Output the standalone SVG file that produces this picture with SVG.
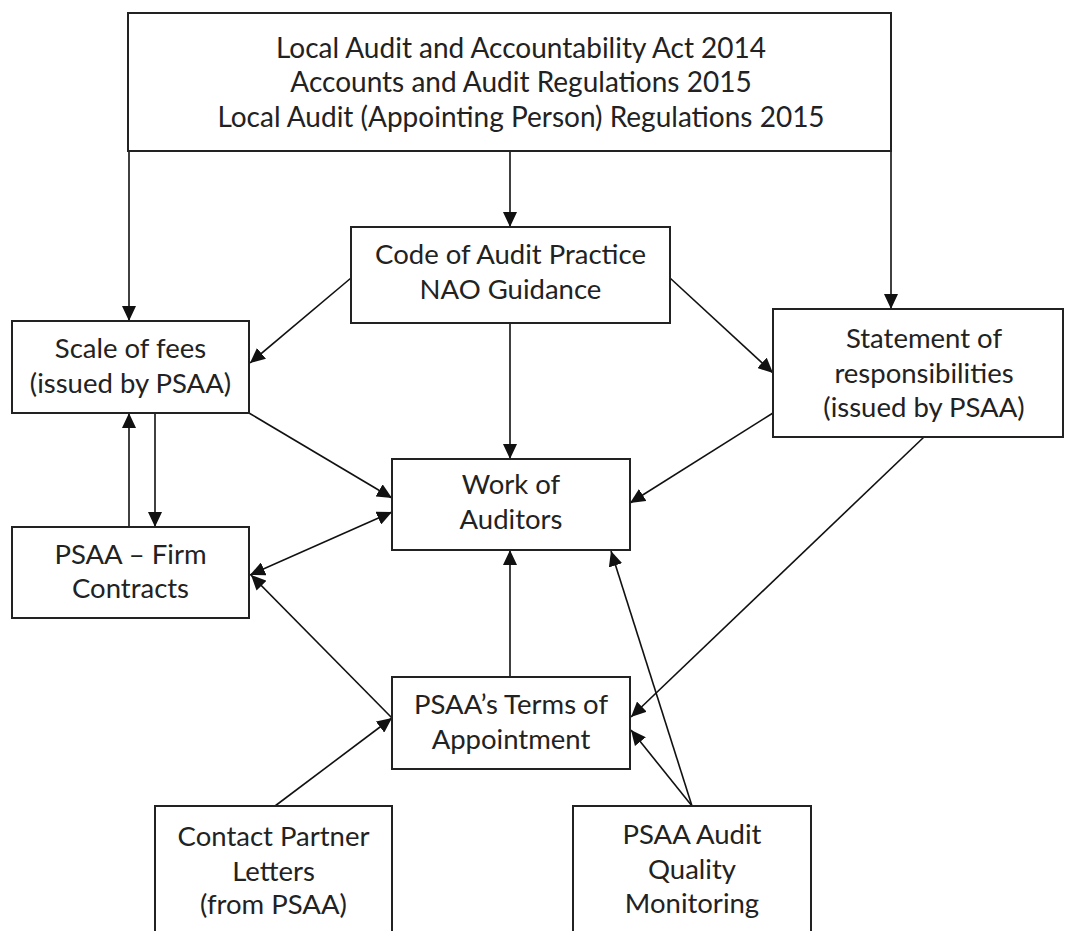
<svg xmlns="http://www.w3.org/2000/svg" width="1068" height="931" viewBox="0 0 1068 931">
<defs>
<marker id="ah" markerUnits="userSpaceOnUse" markerWidth="16" markerHeight="14" refX="15" refY="7" orient="auto-start-reverse">
<path d="M0,0 L15,7 L0,14 z" fill="#111"/>
</marker>
<style>
.box{fill:#fff;stroke:#222;stroke-width:2}
.t{font-family:Lato,"Open Sans","Liberation Sans",sans-serif;font-size:27.5px;fill:#222;text-anchor:middle}
.c{stroke:#111;stroke-width:1.6;fill:none;marker-end:url(#ah)}
.d{marker-start:url(#ah)}
</style>
</defs>
<rect width="1068" height="931" fill="#fff"/>
<g id="connectors">
<line class="c" x1="129" y1="151" x2="129" y2="321"/>
<line class="c" x1="510" y1="151" x2="510" y2="227"/>
<line class="c" x1="891" y1="151" x2="891" y2="309"/>
<line class="c" x1="351" y1="278" x2="250" y2="363"/>
<line class="c" x1="670" y1="278" x2="773" y2="373"/>
<line class="c" x1="510" y1="323" x2="510" y2="459"/>
<line class="c" x1="249" y1="413" x2="392" y2="498"/>
<line class="c" x1="155" y1="413" x2="155" y2="527"/>
<line class="c" x1="129" y1="527" x2="129" y2="413"/>
<line class="c d" x1="250" y1="575" x2="392" y2="512"/>
<line class="c" x1="773" y1="413" x2="630" y2="503"/>
<line class="c" x1="924" y1="437" x2="631" y2="717"/>
<line class="c" x1="510" y1="677" x2="510" y2="550"/>
<line class="c" x1="392" y1="718" x2="251" y2="575"/>
<line class="c" x1="275" y1="806" x2="392" y2="718"/>
<line class="c" x1="692" y1="806" x2="631" y2="730"/>
<line class="c" x1="692" y1="806" x2="611" y2="551"/>
</g>
<g id="top">
<rect class="box" x="128" y="13" width="763" height="138"/>
<text class="t" x="521" y="58" style="font-size:28px">Local Audit and Accountability Act 2014</text>
<text class="t" x="521" y="92" style="font-size:28px">Accounts and Audit Regulations 2015</text>
<text class="t" x="521" y="127" style="font-size:28px">Local Audit (Appointing Person) Regulations 2015</text>
</g>
<g id="code">
<rect class="box" x="351" y="227" width="319" height="96"/>
<text class="t" x="510.5" y="264">Code of Audit Practice</text>
<text class="t" x="510.5" y="299">NAO Guidance</text>
</g>
<g id="scale">
<rect class="box" x="12" y="321" width="237" height="92"/>
<text class="t" x="130.5" y="358">Scale of fees</text>
<text class="t" x="130.5" y="393">(issued by PSAA)</text>
</g>
<g id="statement">
<rect class="box" x="773" y="309" width="290" height="128"/>
<text class="t" x="924" y="348">Statement of</text>
<text class="t" x="924" y="383">responsibilities</text>
<text class="t" x="924" y="417">(issued by PSAA)</text>
</g>
<g id="work">
<rect class="box" x="392" y="459" width="238" height="91"/>
<text class="t" x="511" y="494">Work of</text>
<text class="t" x="511" y="529">Auditors</text>
</g>
<g id="firm">
<rect class="box" x="12" y="527" width="237" height="91"/>
<text class="t" x="130.5" y="564">PSAA – Firm</text>
<text class="t" x="130.5" y="598">Contracts</text>
</g>
<g id="terms">
<rect class="box" x="392" y="677" width="238" height="92"/>
<text class="t" x="511" y="714">PSAA’s Terms of</text>
<text class="t" x="511" y="749">Appointment</text>
</g>
<g id="contact">
<rect class="box" x="155" y="806" width="237" height="140"/>
<text class="t" x="273.5" y="846">Contact Partner</text>
<text class="t" x="273.5" y="881">Letters</text>
<text class="t" x="273.5" y="914">(from PSAA)</text>
</g>
<g id="aqm">
<rect class="box" x="573" y="806" width="238" height="140"/>
<text class="t" x="692" y="844">PSAA Audit</text>
<text class="t" x="692" y="879">Quality</text>
<text class="t" x="692" y="913">Monitoring</text>
</g>
</svg>
